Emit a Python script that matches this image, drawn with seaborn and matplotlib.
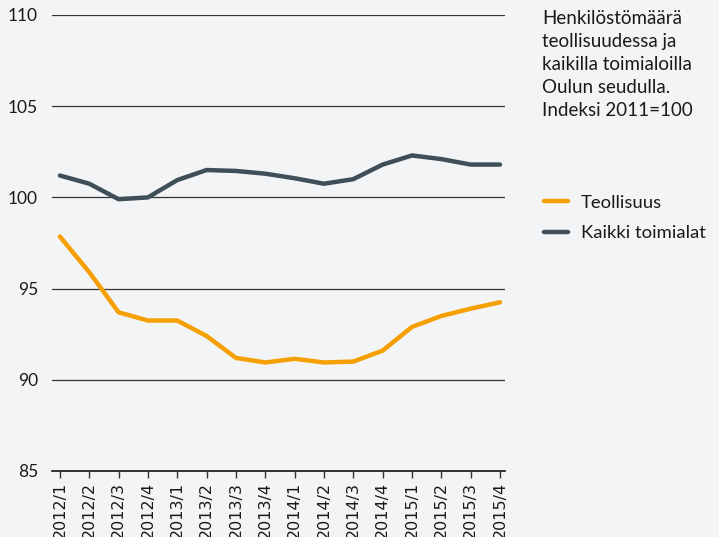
import pandas as pd
import matplotlib
matplotlib.use("Agg")
import matplotlib.pyplot as plt
import seaborn as sns


# Data

quarters = ["2012/1", "2012/2", "2012/3", "2012/4",
            "2013/1", "2013/2", "2013/3", "2013/4",
            "2014/1", "2014/2", "2014/3", "2014/4",
            "2015/1", "2015/2", "2015/3", "2015/4"]
teollisuus = [97.85, 95.9, 93.7, 93.25, 93.25, 92.4, 91.2, 90.95,
              91.15, 90.95, 91.0, 91.6, 92.9, 93.5, 93.9, 94.25]
kaikki = [101.2, 100.75, 99.9, 100.0, 100.95, 101.5, 101.45, 101.3,
          101.05, 100.75, 101.0, 101.8, 102.3, 102.1, 101.8, 101.8]
series_names = ["Teollisuus", "Kaikki toimialat"]
colors = ["#f5a000", "#3e4f57"]
yticks = [85, 90, 95, 100, 105, 110]
title = "Henkilöstömäärä\nteollisuudessa ja\nkaikilla toimialoilla\nOulun seudulla.\nIndeksi 2011=100"

df = pd.DataFrame({
    "x": list(range(len(quarters))) * 2,
    "value": teollisuus + kaikki,
    "series": [series_names[0]] * len(quarters) + [series_names[1]] * len(quarters),
})


# Style

BG = "#f3f4f6"
sns.set_theme(style="white")
plt.rcParams["font.family"] = ["Lato", "DejaVu Sans"]
plt.rcParams["text.color"] = "#1a1a1a"

fig = plt.figure(figsize=(7.19, 5.37), dpi=100, facecolor=BG)
ax = fig.add_axes([52 / 719, 66 / 537, 453 / 719, 456 / 537], facecolor=BG)

sns.lineplot(data=df, x="x", y="value", hue="series", palette=colors,
             linewidth=3.2, ax=ax, legend=False, zorder=3)

# Axes
ax.set_xlim(-0.27, 15.17)
ax.set_ylim(85, 110)
ax.set_yticks(yticks)
ax.set_xticks(range(len(quarters)))
ax.set_xticklabels(quarters, rotation=90, family=["Liberation Sans Narrow", "DejaVu Sans"],
                   fontsize=11.5, color="#1a1a1a")
ax.set_xlabel("")
ax.set_ylabel("")

for y in yticks[1:]:
    ax.axhline(y, color="#333333", lw=0.9, zorder=1)

for side in ["top", "right", "left"]:
    ax.spines[side].set_visible(False)
ax.spines["bottom"].set_color("#111111")
ax.spines["bottom"].set_linewidth(1.2)

ax.tick_params(axis="y", length=0, pad=10, labelsize=12.5, labelcolor="#1a1a1a")
ax.tick_params(axis="x", bottom=True, length=5, width=1, color="#333333", pad=3)

# Title block and legend on the right
fig.text(542 / 719, 1 - 10 / 537, title, ha="left", va="top", fontsize=13.5,
         linespacing=1.42)

handles = [plt.Line2D([], [], color=c, lw=3.2) for c in colors]
fig.legend(handles, series_names, loc="upper left", frameon=False,
           bbox_to_anchor=(527 / 719, 1 - 178 / 537), fontsize=13.3,
           handlelength=1.3, handletextpad=0.7, labelspacing=0.8)

fig.savefig("out.png", dpi=100, facecolor=BG)
